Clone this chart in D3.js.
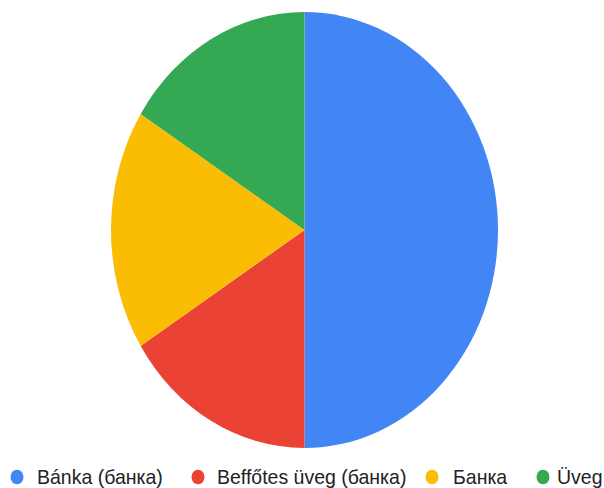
<!DOCTYPE html>
<html>
<head>
<meta charset="utf-8">
<script src="https://cdn.jsdelivr.net/npm/d3@7"></script>
<style>
  html, body { margin: 0; padding: 0; background: #fff; }
  svg { display: block; }
  .legend text { font-family: 'Liberation Sans', Arial, sans-serif; font-size: 19.5px; fill: #222; }
</style>
</head>
<body>
<svg id="chart" width="604" height="488"></svg>
<script>
// Response counts per category
const categories = ["Bánka (банка)", "Beffőtes üveg (банка)", "Банка", "Üveg"];
const counts = [28, 9, 10, 9];
const colors = ["#4285f4", "#ea4335", "#fbbc04", "#34a853"];

const svg = d3.select("#chart");
const cx = 304.5, cy = 230, rx = 193.5, ry = 218;
const r = 200;

const pie = d3.pie().sort(null).value(d => d);
const arc = d3.arc().innerRadius(0).outerRadius(r);

// Pie drawn on a circle, then stretched into the plot's ellipse
const g = svg.append("g")
  .attr("transform", `translate(${cx},${cy}) scale(${rx / r},${ry / r})`);

g.selectAll("path")
  .data(pie(counts))
  .join("path")
  .attr("d", arc)
  .attr("fill", (d, i) => colors[i]);

// Legend along the bottom (same vertical stretch as the pie)
const markerX = [17, 198, 432, 543];
const labelX = [37, 217, 453, 557];
const legend = svg.append("g").attr("class", "legend");

const items = legend.selectAll("g")
  .data(categories)
  .join("g");

items.append("ellipse")
  .attr("cx", (d, i) => markerX[i])
  .attr("cy", 477)
  .attr("rx", 6.5)
  .attr("ry", 7.3)
  .attr("fill", (d, i) => colors[i]);

items.append("text")
  .attr("transform", (d, i) => `translate(${labelX[i]},483.5) scale(1,1.07)`)
  .text(d => d);
</script>
</body>
</html>
